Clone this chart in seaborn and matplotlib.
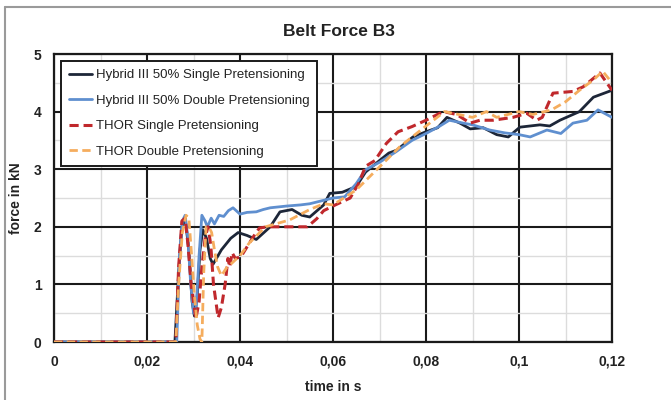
import matplotlib
matplotlib.use("Agg")
import matplotlib.pyplot as plt
from matplotlib.lines import Line2D
from matplotlib.ticker import MultipleLocator, FuncFormatter
import numpy as np
import pandas as pd
import seaborn as sns

# ---- series data (time in s, belt force in kN) ----
h3_single_t = [0, 0.026, 0.0268, 0.0275, 0.0282, 0.029, 0.0297, 0.0302, 0.0308, 0.0314,
               0.032, 0.0328, 0.0336, 0.0342, 0.036, 0.038, 0.0396, 0.0415, 0.0435, 0.0465,
               0.0486, 0.0512, 0.0533, 0.055, 0.058, 0.0593, 0.062, 0.065, 0.067, 0.070,
               0.072, 0.0737, 0.0772, 0.080, 0.0825, 0.0845, 0.0873, 0.0895, 0.0923, 0.0952,
               0.0977, 0.1002, 0.1045, 0.1066, 0.1088, 0.113, 0.116, 0.12]
h3_single_f = [0, 0, 1.2, 2.0, 2.15, 1.6, 0.7, 0.45, 0.8, 1.6,
               1.95, 1.8, 1.45, 1.35, 1.6, 1.8, 1.9, 1.85, 1.78, 2.0,
               2.26, 2.3, 2.2, 2.17, 2.38, 2.58, 2.6, 2.7, 2.95, 3.15,
               3.28, 3.33, 3.56, 3.65, 3.72, 3.9, 3.8, 3.7, 3.72, 3.6,
               3.56, 3.73, 3.77, 3.75, 3.85, 4.0, 4.25, 4.37]

h3_double_t = [0, 0.0264, 0.027, 0.0276, 0.0282, 0.0288, 0.0294, 0.03, 0.0306, 0.0312,
               0.0318, 0.0325, 0.033, 0.0338, 0.0345, 0.0355, 0.0365, 0.0375, 0.0385, 0.04,
               0.0415, 0.0435, 0.045, 0.0465, 0.05, 0.053, 0.055, 0.058, 0.06, 0.0625,
               0.065, 0.067, 0.070, 0.0735, 0.077, 0.080, 0.083, 0.085, 0.088, 0.090,
               0.0937, 0.097, 0.100, 0.1024, 0.106, 0.109, 0.1116, 0.1146, 0.117, 0.12]
h3_double_f = [0, 0, 1.5, 2.1, 2.2, 1.8, 1.0, 0.5, 0.6, 1.5,
               2.2, 2.1, 2.0, 2.15, 2.05, 2.2, 2.18, 2.28, 2.33, 2.22,
               2.25, 2.26, 2.3, 2.33, 2.36, 2.38, 2.4, 2.46, 2.5, 2.52,
               2.75, 2.99, 3.12, 3.3, 3.5, 3.62, 3.75, 3.85, 3.8, 3.77,
               3.68, 3.63, 3.6, 3.56, 3.68, 3.62, 3.8, 3.85, 4.03, 3.9]

thor_single_t = [0, 0.0262, 0.0268, 0.0275, 0.0282, 0.0288, 0.0295, 0.0305, 0.0312, 0.0318,
                 0.0325, 0.0331, 0.0337, 0.0343, 0.0353, 0.036, 0.0368, 0.0374, 0.0378, 0.0383,
                 0.039, 0.0402, 0.0415, 0.0428, 0.0442, 0.046, 0.049, 0.052, 0.0545, 0.0565,
                 0.058, 0.0605, 0.0637, 0.0655, 0.067, 0.069, 0.0715, 0.074, 0.077, 0.080,
                 0.0837, 0.0866, 0.0895, 0.0916, 0.0944, 0.0987, 0.1017, 0.1038, 0.105, 0.1073,
                 0.1116, 0.1138, 0.1174, 0.12]
thor_single_f = [0, 0, 1.3, 2.1, 2.15, 1.7, 1.0, 0.4, 0.7, 1.3,
                 1.8, 2.0, 1.7, 1.0, 0.42, 0.6, 1.0, 1.45, 1.3, 1.55,
                 1.45, 1.48, 1.65, 1.82, 1.98, 2.0, 2.0, 2.0, 2.0, 2.14,
                 2.28, 2.38, 2.5, 2.75, 3.05, 3.15, 3.45, 3.65, 3.74, 3.85,
                 4.0, 3.95, 3.8, 3.85, 3.85, 3.9, 3.97, 3.85, 3.9, 4.32,
                 4.35, 4.43, 4.67, 4.37]

thor_double_t = [0, 0.0262, 0.0268, 0.0276, 0.0284, 0.029, 0.0296, 0.0302, 0.0308, 0.0314,
                 0.0318, 0.0322, 0.0327, 0.0333, 0.0339, 0.0345, 0.0352, 0.036, 0.0372, 0.038,
                 0.040, 0.042, 0.0455, 0.0507, 0.055, 0.058, 0.060, 0.065, 0.0695, 0.0745,
                 0.080, 0.084, 0.087, 0.090, 0.093, 0.0952, 0.100, 0.103, 0.107, 0.110,
                 0.113, 0.116, 0.118, 0.12]
thor_double_f = [0, 0, 1.0, 1.9, 2.2, 2.15, 1.5, 0.8, 0.3, 0.05,
                 0, 1.2, 2.0, 2.0, 1.9, 1.6, 1.3, 1.15, 1.3, 1.35,
                 1.5, 1.72, 2.0, 2.12, 2.3, 2.4, 2.38, 2.64, 3.0, 3.4,
                 3.75, 4.0, 3.95, 3.9, 4.0, 3.9, 4.0, 3.95, 4.03, 4.17,
                 4.37, 4.55, 4.7, 4.5]

series_names = ["Hybrid III 50% Single Pretensioning",
                "Hybrid III 50% Double Pretensioning",
                "THOR Single Pretensioning",
                "THOR Double Pretensioning"]

x_ticks = [0, 0.02, 0.04, 0.06, 0.08, 0.1, 0.12]
y_ticks = [0, 1, 2, 3, 4, 5]

title_text = "Belt Force B3"
x_label = "time in s"
y_label = "force in kN"

# ---- assemble long-form table ----
frames = []
for name, t, f in zip(series_names,
                      [h3_single_t, h3_double_t, thor_single_t, thor_double_t],
                      [h3_single_f, h3_double_f, thor_single_f, thor_double_f]):
    frames.append(pd.DataFrame({"time": t, "force": f, "series": name}))
df = pd.concat(frames, ignore_index=True)

sns.set_theme(style="white")
plt.rcParams["font.family"] = ["Liberation Sans", "DejaVu Sans"]

styles = {
    series_names[0]: dict(color="#1d2638", lw=2.0, ls="-"),
    series_names[1]: dict(color="#5f8fcf", lw=2.0, ls="-"),
    series_names[2]: dict(color="#c0282c", lw=2.2, ls=(0, (3.0, 1.6))),
    series_names[3]: dict(color="#f5ad5e", lw=2.0, ls=(0, (3.0, 1.6))),
}

fig = plt.figure(figsize=(6.71, 4.0), dpi=100)
ax = fig.add_axes([54 / 671, 1 - 342 / 400, (612 - 54) / 671, (342 - 54) / 400])

for name in series_names:
    st = styles[name]
    sns.lineplot(data=df[df["series"] == name], x="time", y="force", ax=ax,
                 estimator=None, sort=False, color=st["color"], linewidth=st["lw"],
                 linestyle=st["ls"], label=name, zorder=3)

ax.set_xlim(0, 0.12)
ax.set_ylim(0, 5)
ax.set_xticks(x_ticks)
ax.set_yticks(y_ticks)
ax.xaxis.set_minor_locator(MultipleLocator(0.01))
ax.yaxis.set_minor_locator(MultipleLocator(0.5))
ax.xaxis.set_major_formatter(FuncFormatter(lambda v, p: f"{v:g}".replace(".", ",")))
ax.yaxis.set_major_formatter(FuncFormatter(lambda v, p: f"{v:g}"))

ax.grid(which="minor", color="#dcdcdc", lw=1.0, zorder=0)
ax.grid(which="major", color="#1a1a1a", lw=1.5, zorder=1)
ax.set_axisbelow(True)
for sp in ax.spines.values():
    sp.set_color("#1a1a1a")
    sp.set_linewidth(1.6)

ax.tick_params(axis="both", which="major", direction="out", length=4, width=1.2,
               color="#1a1a1a", labelsize=10, pad=5)
ax.tick_params(axis="both", which="minor", length=0)
for lab in ax.get_xticklabels() + ax.get_yticklabels():
    lab.set_fontweight("bold")
    lab.set_color("#222222")

ax.set_xlabel(x_label, fontsize=10, fontweight="bold", color="#222222", labelpad=8)
ax.set_ylabel(y_label, fontsize=10, fontweight="bold", color="#222222", labelpad=8)
fig.text(339 / 671, 1 - 32 / 400, title_text, ha="center", va="center",
         fontsize=12.5, fontweight="bold", color="#222222")

leg = ax.legend(loc="upper left", fontsize=9.5, frameon=True, fancybox=False,
                edgecolor="#1a1a1a", framealpha=1.0, borderpad=0.6,
                labelspacing=1.0, handlelength=1.7, handletextpad=0.3,
                borderaxespad=0.55)
leg.get_frame().set_linewidth(1.4)
for txt in leg.get_texts():
    txt.set_color("#222222")

# outer chart frame (grey, left and top visible)
fig.add_artist(Line2D([5 / 671, 5 / 671], [0, 1 - 7 / 400], color="#9a9a9a", lw=1.5))
fig.add_artist(Line2D([5 / 671, 1], [1 - 7 / 400, 1 - 7 / 400], color="#9a9a9a", lw=1.5))

fig.savefig("out.png", dpi=100)
